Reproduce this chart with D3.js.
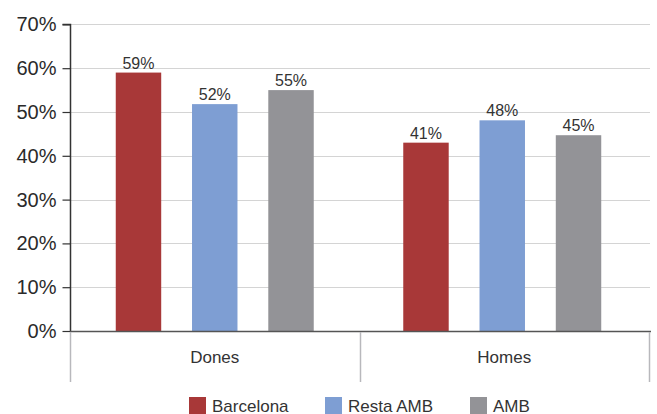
<!DOCTYPE html>
<html>
<head>
<meta charset="utf-8">
<script src="https://cdn.jsdelivr.net/npm/d3@7"></script>
<style>
  html, body { margin: 0; padding: 0; background: #fff; }
  svg { display: block; font-family: "Liberation Sans", Arial, Helvetica, sans-serif; }
</style>
</head>
<body>
<svg id="chart" width="657" height="414"></svg>
<script>
const categories = ["Dones", "Homes"];
const seriesNames = ["Barcelona", "Resta AMB", "AMB"];
const seriesColors = ["#a83838", "#7e9ed3", "#939397"];
const barcelona = [0.59, 0.43];
const restaAMB = [0.518, 0.481];
const amb = [0.55, 0.447];
const barcelonaLabels = ["59%", "41%"];
const restaAMBLabels = ["52%", "48%"];
const ambLabels = ["55%", "45%"];
const yTicks = [0, 0.1, 0.2, 0.3, 0.4, 0.5, 0.6, 0.7];

const seriesValues = [barcelona, restaAMB, amb];
const seriesLabels = [barcelonaLabels, restaAMBLabels, ambLabels];

const svg = d3.select("#chart");
const plotLeft = 70, plotRight = 649, plotTop = 24.4, plotBottom = 331;

const y = d3.scaleLinear().domain([0, 0.7]).range([plotBottom, plotTop]);
const x0 = d3.scaleBand().domain(categories).range([plotLeft, plotRight]).padding(0);
const x1 = d3.scaleBand().domain(seriesNames).range([0, x0.bandwidth()])
  .paddingInner(0.404).paddingOuter(0.6);

// gridlines
svg.append("g").selectAll("line").data(yTicks.filter(d => d > 0)).join("line")
  .attr("x1", plotLeft).attr("x2", plotRight + 1)
  .attr("y1", d => Math.round(y(d)) + 0.5).attr("y2", d => Math.round(y(d)) + 0.5)
  .attr("stroke", "#d4d4d4").attr("stroke-width", 1);

// bars
const data = [];
categories.forEach((c, ci) => seriesNames.forEach((s, si) => {
  data.push({ c, s, si, v: seriesValues[si][ci], label: seriesLabels[si][ci] });
}));

svg.append("g").selectAll("rect").data(data).join("rect")
  .attr("x", d => x0(d.c) + x1(d.s) - (d.c === "Homes" ? 2 : 0))
  .attr("y", d => y(d.v))
  .attr("width", x1.bandwidth())
  .attr("height", d => y(0) - y(d.v))
  .attr("fill", d => seriesColors[d.si]);

svg.append("g").selectAll("text").data(data).join("text")
  .attr("x", d => x0(d.c) + x1(d.s) - (d.c === "Homes" ? 2 : 0) + x1.bandwidth() / 2)
  .attr("y", d => y(d.v) - 4)
  .attr("text-anchor", "middle")
  .attr("font-size", 16)
  .attr("fill", "#333")
  .text(d => d.label);

// y axis
const yAxis = d3.axisLeft(y).tickValues(yTicks).tickFormat(d3.format(".0%")).tickSize(8).tickPadding(6);
const gy = svg.append("g").attr("transform", `translate(${plotLeft + 0.5},0)`).call(yAxis);
gy.select(".domain").attr("stroke", "#333").attr("stroke-width", 1.5).attr("d", `M-8,${y(0.7)}H0V${plotBottom}`);
gy.selectAll(".tick line").attr("stroke", "#333").attr("stroke-width", 1.2);
gy.selectAll(".tick text").attr("font-size", 20).attr("fill", "#2a2a2a")
  .attr("font-family", "'Liberation Sans', Arial, sans-serif");

// x axis baseline
svg.append("line").attr("x1", plotLeft).attr("x2", plotRight + 2)
  .attr("y1", plotBottom + 0.5).attr("y2", plotBottom + 0.5)
  .attr("stroke", "#555").attr("stroke-width", 1.5);

// category divider ticks
const dividers = [plotLeft, x0("Homes"), plotRight];
svg.append("g").selectAll("line").data(dividers).join("line")
  .attr("x1", d => Math.round(d) + 0.5).attr("x2", d => Math.round(d) + 0.5)
  .attr("y1", plotBottom + 1).attr("y2", 382)
  .attr("stroke", "#b8b8bc").attr("stroke-width", 1.5);

// category labels
svg.append("g").selectAll("text").data(categories).join("text")
  .attr("x", d => x0(d) + x0.bandwidth() / 2)
  .attr("y", 363)
  .attr("text-anchor", "middle")
  .attr("font-size", 17)
  .attr("fill", "#333")
  .text(d => d);

// legend
const legendX = [189, 325, 470];
const lg = svg.append("g").selectAll("g").data(seriesNames).join("g")
  .attr("transform", (d, i) => `translate(${legendX[i]},397)`);
lg.append("rect").attr("width", 17).attr("height", 17).attr("fill", (d, i) => seriesColors[i]);
lg.append("text").attr("x", 23).attr("y", 14.5).attr("font-size", 17).attr("fill", "#333").text(d => d);
</script>
</body>
</html>
